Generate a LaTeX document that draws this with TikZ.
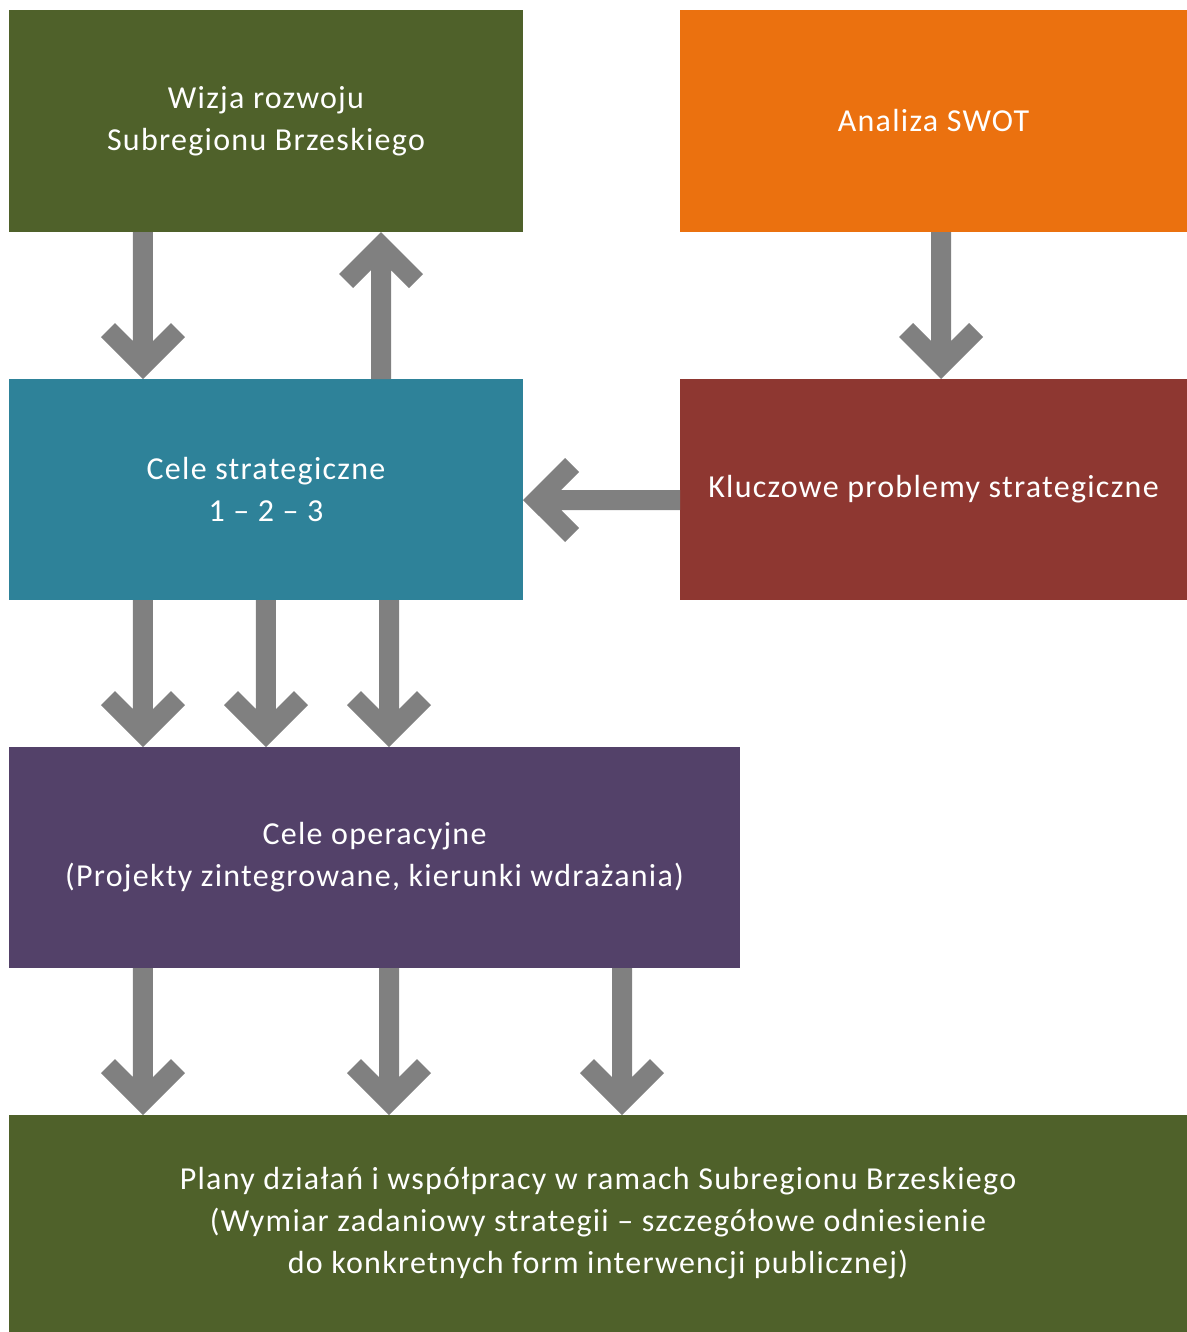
\documentclass[tikz,border=0pt]{standalone}
\usepackage{fontspec}
\setmainfont[LetterSpace=4]{Carlito}
\usetikzlibrary{calc}
\definecolor{cgreen}{HTML}{4F612A}
\definecolor{corange}{HTML}{EB710F}
\definecolor{cteal}{HTML}{2E8299}
\definecolor{cred}{HTML}{8E3731}
\definecolor{cpurple}{HTML}{534169}
\definecolor{arrowgray}{HTML}{808080}
\newcommand{\fatarrow}[2]{%
  \fill[arrowgray] let \p1=(#1), \p2=(#2),
    \n1={veclen(\x1-\x2,\y1-\y2)}, \n2={atan2(\y1-\y2,\x1-\x2)} in
    (\p2) -- ++(\n2+45:44.55pt) -- ++(\n2-45:14.85pt) -- ++(\n2+225:19.09pt)
    -- ++(\n2:{\n1-28.5pt}) -- ++(\n2-90:15pt) -- ++(\n2+180:{\n1-28.5pt})
    -- ++(\n2-45:19.09pt) -- ++(\n2+225:14.85pt) -- cycle;}
\begin{document}
\begin{tikzpicture}[x=0.75pt,y=-0.75pt,
  box/.style={rectangle, inner sep=0pt, outer sep=0pt, text=white,
    align=center, font=\fontsize{24}{31.5}\selectfont, minimum height=#1*0.75pt},
  box/.default=222]
\useasboundingbox (0,0) rectangle (1187,1332);
\node[box, fill=cgreen, minimum width=514*0.75pt] (A) at (266,121)
  {Wizja rozwoju\\Subregionu Brzeskiego};
\node[box, fill=corange, minimum width=507*0.75pt] (B) at (933.5,121)
  {Analiza SWOT};
\node[box=221, fill=cteal, minimum width=514*0.75pt] (C) at (266,489.5)
  {Cele strategiczne\\1 – 2 – 3};
\node[box=221, fill=cred, minimum width=507*0.75pt] (D) at (933.5,489.5)
  {Kluczowe problemy strategiczne};
\node[box=221, fill=cpurple, minimum width=731*0.75pt] (E) at (374.5,857.5)
  {Cele operacyjne\\(Projekty zintegrowane, kierunki wdrażania)};
\node[box=217, fill=cgreen, minimum width=1178*0.75pt] (F) at (598,1223.5)
  {Plany działań i współpracy w ramach Subregionu Brzeskiego\\(Wymiar zadaniowy strategii – szczegółowe odniesienie\\do konkretnych form interwencji publicznej)};
% arrows
\fatarrow{$(A.south west)+(134,0)$}{$(C.north west)+(134,0)$}
\fatarrow{$(C.north west)+(372,0)$}{$(A.south west)+(372,0)$}
\fatarrow{$(B.south west)+(261,0)$}{$(D.north west)+(261,0)$}
\fatarrow{$(D.west)+(0,10.5)$}{$(C.east)+(0,10.5)$}
\fatarrow{$(C.south west)+(134,0)$}{$(E.north west)+(134,0)$}
\fatarrow{$(C.south west)+(257,0)$}{$(E.north west)+(257,0)$}
\fatarrow{$(C.south west)+(380,0)$}{$(E.north west)+(380,0)$}
\fatarrow{$(E.south west)+(134,0)$}{$(F.north west)+(134,0)$}
\fatarrow{$(E.south west)+(380,0)$}{$(F.north west)+(380,0)$}
\fatarrow{$(E.south west)+(613,0)$}{$(F.north west)+(613,0)$}
\end{tikzpicture}
\end{document}
